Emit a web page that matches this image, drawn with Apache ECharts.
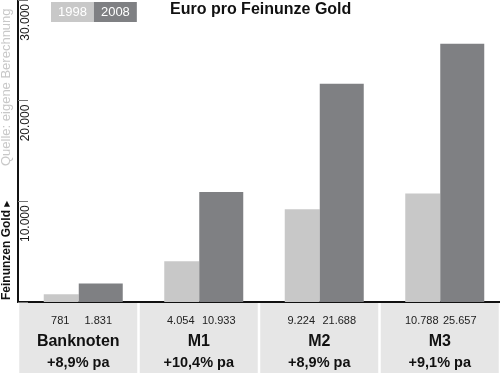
<!DOCTYPE html>
<html>
<head>
<meta charset="utf-8">
<script src="https://cdn.jsdelivr.net/npm/echarts@6/dist/echarts.min.js"></script>
<style>
  html, body { margin: 0; padding: 0; background: #fff; }
  #chart { width: 500px; height: 375px; }
</style>
</head>
<body>
<div id="chart"></div>
<script>
const years = ['1998', '2008'];
const categories = ['Banknoten', 'M1', 'M2', 'M3'];
const values1998 = [781, 4054, 9224, 10788];
const values2008 = [1831, 10933, 21688, 25657];
const growth = ['+8,9% pa', '+10,4% pa', '+8,9% pa', '+9,1% pa'];

const FONT = '"Liberation Sans", Arial, sans-serif';
const lightGray = '#c8c8c8';
const darkGray = '#7f8083';

// 10000 -> "10.000"
const fmt = (v) => String(v).replace(/\B(?=(\d{3})+(?!\d))/g, '.');

const chart = echarts.init(document.getElementById('chart'), null, { renderer: 'canvas' });

const option = {
  backgroundColor: '#ffffff',
  animation: false,
  textStyle: { fontFamily: FONT },
  title: {
    text: 'Euro pro Feinunze Gold',
    left: 170,
    top: 2,
    padding: 0,
    textStyle: { fontFamily: FONT, fontSize: 16, fontWeight: 'bold', color: '#111' },
  },
  legend: {
    left: 46,
    top: 2,
    padding: 0,
    itemWidth: 0,
    itemHeight: 0,
    itemGap: -5,
    selectedMode: false,
    data: [
      { name: years[0], textStyle: { backgroundColor: lightGray } },
      { name: years[1], textStyle: { backgroundColor: darkGray } },
    ],
    textStyle: {
      fontFamily: FONT,
      fontSize: 13,
      color: '#fff',
      lineHeight: 14,
      padding: [3, 7, 3, 7],
    },
  },
  graphic: [
    {
      type: 'text',
      x: 0,
      y: 166,
      rotation: Math.PI / 2,
      style: {
        text: 'Quelle: eigene Berechnung',
        fill: lightGray,
        font: '13px ' + FONT,
        textAlign: 'left',
        textVerticalAlign: 'top',
      },
    },
  ],
  grid: {
    left: 18,
    right: 0,
    top: 0,
    bottom: 73,
    outerBoundsMode: 'none',
  },
  xAxis: {
    type: 'category',
    data: categories,
    axisLine: { show: true, lineStyle: { color: '#111', width: 2 } },
    axisTick: { show: false },
    axisLabel: {
      interval: 0,
      margin: 1,
      width: 118,
      padding: [7, 0, 0, 0],
      backgroundColor: '#e6e6e6',
      formatter: (name, idx) =>
        `{a|${fmt(values1998[idx])}}{b|${fmt(values2008[idx])}}\n{n|${name}}\n{p|${growth[idx]}}`,
      rich: {
        a: { width: 40, align: 'center', fontSize: 11, lineHeight: 21, color: '#222', fontFamily: FONT },
        b: { width: 36, align: 'center', fontSize: 11, lineHeight: 21, color: '#222', fontFamily: FONT },
        n: { align: 'center', fontSize: 16, fontWeight: 'bold', lineHeight: 21, color: '#111', fontFamily: FONT },
        p: { align: 'center', fontSize: 14.5, fontWeight: 'bold', lineHeight: 21, color: '#111', fontFamily: FONT },
      },
    },
  },
  yAxis: {
    type: 'value',
    min: 0,
    max: 30000,
    interval: 10000,
    name: '{t|Feinunzen Gold }{s|▶}',
    nameLocation: 'start',
    nameRotate: 90,
    nameGap: -2,
    nameMoveOverlap: false,
    nameTextStyle: {
      align: 'left',
      verticalAlign: 'bottom',
      padding: [0, 0, 5, 0],
      rich: {
        t: { fontFamily: FONT, fontSize: 12, fontWeight: 'bold', color: '#111' },
        s: { fontFamily: 'DejaVu Sans', fontSize: 8, color: '#111' },
      },
    },
    axisLine: { show: true, lineStyle: { color: '#111', width: 2 } },
    axisTick: { show: true, inside: true, length: 10, lineStyle: { color: '#777', width: 1 } },
    axisLabel: {
      inside: true,
      rotate: 90,
      margin: 2,
      align: 'right',
      verticalAlign: 'top',
      padding: [0, 4, 0, 0],
      fontFamily: FONT,
      fontSize: 12,
      color: '#1a1a1a',
      formatter: (v) => (v === 0 ? '' : fmt(v)),
    },
    splitLine: { show: false },
  },
  series: [
    {
      // empty spacer: keeps the bar pair a little right of the category centre
      name: 'spacer',
      type: 'bar',
      data: [],
      barWidth: 10,
      barGap: '0%',
      silent: true,
    },
    {
      name: years[0],
      type: 'bar',
      data: values1998,
      barWidth: 35,
      barGap: '0%',
      itemStyle: { color: lightGray },
    },
    {
      name: years[1],
      type: 'bar',
      data: values2008,
      barWidth: 44,
      barGap: '0%',
      itemStyle: { color: darkGray },
    },
  ],
};

chart.setOption(option);
</script>
</body>
</html>
